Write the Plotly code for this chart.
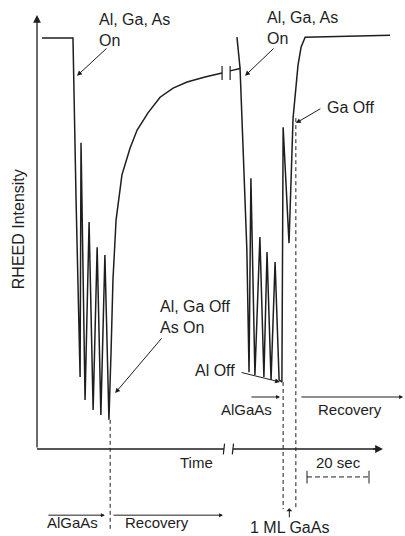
import plotly.graph_objects as go

# ---- data (time in s, RHEED intensity in a.u.) ----
# first growth run: AlGaAs growth then recovery
t_run1 = [1.6, 11.6, 12.6, 13.9, 14.2, 15.5, 16.8, 18.1, 19.4, 20.6, 21.9, 23.2,
          23.9, 24.5, 25.5, 27.4, 30.0, 32.3, 35.8, 39.7, 43.9, 48.4, 54.2, 59.7]
i_run1 = [100, 100, 60.6, 17.5, 74.5, 11.9, 55.2, 9.5, 49.1, 8.3, 47.2, 7.1,
          24.1, 41.1, 55.7, 66.7, 73.2, 77.6, 81.8, 85.6, 87.8, 89.3, 90.5, 91.5]
# second run: AlGaAs, Al off, 1 ML GaAs, Ga off, recovery
t_run2 = [62.3, 65.5, 66.5, 67.7, 68.4, 69.0, 70.3, 71.9, 73.2, 74.2, 75.5, 76.8, 78.1, 79.0,
          79.4, 81.3, 82.6, 83.2, 84.2, 85.2, 86.5, 113.9]
i_run2 = [92.0, 92.6, 72.7, 48.4, 18.7, 65.9, 18.0, 51.6, 17.5, 47.9, 16.8, 45.5, 16.8, 16.3,
          78.3, 50.1, 80.5, 86.1, 93.4, 97.8, 100.2, 100.7]
t_drop2 = [64.5, 65.5]
i_drop2 = [100.2, 92.6]

t_break = [59.7, 62.3]          # axis / curve break marks
t_events = [23.6, 79.4, 83.5]   # AlGaAs->recovery, Al off, Ga off
i_events = [7.1, 16.3, 80.5]
scale_bar = [87.1, 107.1]       # 20 sec

labels = ["Al, Ga, As<br>On", "Ga Off", "Al, Ga Off<br>As On", "Al Off",
          "AlGaAs", "Recovery", "Time", "20 sec", "1 ML GaAs", "RHEED Intensity"]

INK = "#1e1e1e"
FONT = "Liberation Sans, Arial, Helvetica, sans-serif"

fig = go.Figure()

fig.add_trace(go.Scatter(x=t_run1, y=i_run1, mode="lines",
                         line=dict(color=INK, width=1.5), hoverinfo="skip"))
fig.add_trace(go.Scatter(x=t_run2, y=i_run2, mode="lines",
                         line=dict(color=INK, width=1.5), hoverinfo="skip"))
fig.add_trace(go.Scatter(x=t_drop2, y=i_drop2, mode="lines",
                         line=dict(color=INK, width=1.5), hoverinfo="skip"))

# break marks on the recovery curve
for tb in t_break:
    fig.add_trace(go.Scatter(x=[tb, tb], y=[89.8, 93.2], mode="lines",
                             line=dict(color=INK, width=1.2), hoverinfo="skip"))

# time axis with break
fig.add_trace(go.Scatter(x=[0, 0.6, 60.3], y=[0, 0, 0], mode="lines",
                         line=dict(color=INK, width=1.3), hoverinfo="skip"))
fig.add_trace(go.Scatter(x=[63.2, 110], y=[0, 0], mode="lines",
                         line=dict(color=INK, width=1.3), hoverinfo="skip"))
for tb in [60.3, 63.2]:
    fig.add_trace(go.Scatter(x=[tb - 0.2, tb + 0.2], y=[-1.3, 1.3], mode="lines",
                             line=dict(color=INK, width=1.2), hoverinfo="skip"))

# event dashed lines
fig.add_trace(go.Scatter(x=[t_events[0], t_events[0]], y=[i_events[0], -19.5], mode="lines",
                         line=dict(color=INK, width=1, dash="4px,3px"), hoverinfo="skip"))
fig.add_trace(go.Scatter(x=[t_events[1], t_events[1]], y=[i_events[1], -14.6], mode="lines",
                         line=dict(color=INK, width=1, dash="4px,3px"), hoverinfo="skip"))
fig.add_trace(go.Scatter(x=[t_events[2], t_events[2]], y=[i_events[2], -14.6], mode="lines",
                         line=dict(color=INK, width=1, dash="4px,3px"), hoverinfo="skip"))

# 20 sec scale bar
fig.add_trace(go.Scatter(x=scale_bar, y=[-6.8, -6.8], mode="lines",
                         line=dict(color=INK, width=1, dash="5px,3px"), hoverinfo="skip"))
for tb in scale_bar:
    fig.add_trace(go.Scatter(x=[tb, tb], y=[-5.3, -8.4], mode="lines",
                             line=dict(color=INK, width=1), hoverinfo="skip"))

ann = []


def arrow(x, y, ax, ay, head=2, size=1, width=1):
    ann.append(dict(x=x, y=y, ax=ax, ay=ay, xref="x", yref="y", axref="x", ayref="y",
                    showarrow=True, text="", arrowhead=head, arrowsize=size,
                    arrowwidth=width, arrowcolor=INK))


def label(txt, x, y, size=16, xanchor="left", angle=0):
    ann.append(dict(x=x, y=y, xref="x", yref="y", text=txt, showarrow=False,
                    xanchor=xanchor, yanchor="middle", textangle=angle, align="left",
                    font=dict(family=FONT, size=size, color=INK)))


# axes arrows
arrow(0, 105.6, 0, 0, head=2, size=1.2, width=1.3)
arrow(111.6, 0, 108, 0, head=2, size=1.2, width=1.3)

# label pointers
arrow(12.9, 90.8, 22.9, 97.8)
arrow(67.1, 90.8, 76.8, 97.8)
arrow(83.5, 79.3, 91.9, 83.0)
arrow(25.2, 13.6, 40.6, 27.3)
arrow(78.4, 16.3, 65.5, 18.7)

# interval arrows
arrow(21.9, -16.1, 3.2, -16.1, head=2, size=0.8)
arrow(60.0, -16.1, 24.2, -16.1, head=2, size=0.8)
arrow(78.4, 12.65, 68.7, 12.65, head=2, size=0.8)
arrow(118.1, 12.65, 84.8, 12.65, head=2, size=0.8)
arrow(81.4, -14.4, 81.4, -17.0, head=1, size=1.0)

# texts
label(labels[0], 19.4, 101.9, 16)
label(labels[0], 73.5, 102.4, 16)
label(labels[1], 92.9, 83.2, 16)
label(labels[2], 39.0, 32.0, 16)
label(labels[3], 50.3, 19.0, 16)
label(labels[4], 67.7, 9.5, 15, "center")
label(labels[5], 101.0, 9.5, 15, "center")
label(labels[6], 51.6, -3.4, 15, "center")
label(labels[7], 97.1, -3.4, 15, "center")
label(labels[4], 11.3, -18.0, 15, "center")
label(labels[5], 38.7, -18.0, 15, "center")
label(labels[8], 81.6, -19.2, 16, "center")
label(labels[9], -6.1, 53.5, 16, "center", angle=-90)

fig.update_layout(
    width=405, height=536,
    margin=dict(l=0, r=0, t=0, b=0),
    paper_bgcolor="white", plot_bgcolor="white",
    showlegend=False,
    xaxis=dict(range=[-11.94, 118.71], visible=False, fixedrange=True),
    yaxis=dict(range=[-21.17, 109.25], visible=False, fixedrange=True),
    annotations=ann,
)

fig.write_html("out.html")
